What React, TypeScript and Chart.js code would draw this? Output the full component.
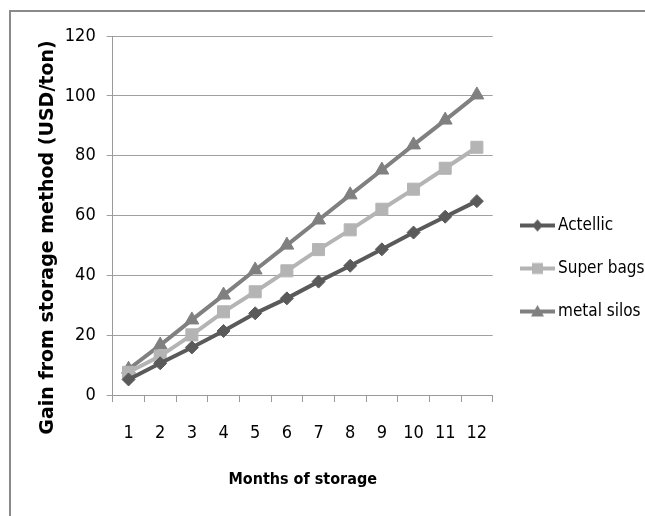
import React, { useEffect, useRef } from "react";
import { Chart, registerables } from "chart.js";

Chart.register(...registerables);

// ---- data ----
const months = ["1", "2", "3", "4", "5", "6", "7", "8", "9", "10", "11", "12"];
const actellic = [5.2, 10.6, 15.9, 21.4, 27.3, 32.3, 37.9, 43.2, 48.7, 54.3, 59.6, 64.8];
const superBags = [7.6, 13.0, 20.1, 27.8, 34.5, 41.5, 48.6, 55.2, 62.1, 68.8, 75.8, 82.8];
const metalSilos = [8.6, 16.7, 25.1, 33.4, 41.8, 50.1, 58.5, 66.9, 75.2, 83.6, 91.9, 100.3];
const seriesNames = ["Actellic", "Super bags", "metal silos"];
const yMin = 0;
const yMax = 120;
const yStep = 20;
const xTitle = "Months of storage";
const yTitle = "Gain from storage method (USD/ton)";

// ---- styles ----
const seriesColors = ["#5a5a5a", "#b4b4b4", "#808080"];
const seriesMarkers = ["rectRot", "rect", "triangle"];
const markerRadii = [6.5, 8.5, 8];
const NARROW = '"DejaVu Sans Condensed", "Liberation Sans Narrow", sans-serif';

function makeLegendIcon(color: string, marker: string): HTMLCanvasElement {
  const c = document.createElement("canvas");
  c.width = 35;
  c.height = 16;
  const g = c.getContext("2d")!;
  const cy = 8;
  const cx = 17.5;
  g.strokeStyle = color;
  g.lineWidth = 4;
  g.beginPath();
  g.moveTo(0, cy);
  g.lineTo(35, cy);
  g.stroke();
  g.fillStyle = color;
  g.beginPath();
  if (marker === "rectRot") {
    g.moveTo(cx, cy - 6);
    g.lineTo(cx + 5.5, cy);
    g.lineTo(cx, cy + 6);
    g.lineTo(cx - 5.5, cy);
    g.closePath();
  } else if (marker === "rect") {
    g.rect(cx - 5.5, cy - 5.5, 11, 11);
  } else {
    g.moveTo(cx, cy - 6.5);
    g.lineTo(cx + 6.5, cy + 5);
    g.lineTo(cx - 6.5, cy + 5);
    g.closePath();
  }
  g.fill();
  return c;
}

export default function App() {
  const ref = useRef<HTMLCanvasElement | null>(null);

  useEffect(() => {
    const canvas = ref.current;
    if (!canvas) return;
    const allSeries = [actellic, superBags, metalSilos];
    const icons = seriesNames.map((_, i) => makeLegendIcon(seriesColors[i], seriesMarkers[i]));

    const customPlugin = {
      id: "customBits",
      afterLayout(chart: any) {
        const lg = chart.legend;
        if (lg) {
          const dx = 6.8;
          const dy = 2.5;
          lg.left += dx;
          lg.right += dx;
          lg.top += dy;
          lg.bottom += dy;
        }
      },
      afterDraw(chart: any) {
        const { ctx, chartArea } = chart;
        ctx.save();
        ctx.translate(chartArea.left - 64.5, (chartArea.top + chartArea.bottom) / 2 + 22);
        ctx.rotate(-Math.PI / 2);
        ctx.font = 'bold 19px "DejaVu Sans", sans-serif';
        ctx.fillStyle = "#000";
        ctx.textAlign = "center";
        ctx.textBaseline = "middle";
        ctx.fillText(yTitle, 0, 0);
        ctx.restore();
      },
    };

    const chart = new Chart(canvas, {
      type: "line",
      data: {
        labels: months,
        datasets: allSeries.map((vals, i) => ({
          label: seriesNames[i],
          data: vals,
          borderColor: seriesColors[i],
          backgroundColor: seriesColors[i],
          borderWidth: 4,
          pointStyle: seriesMarkers[i] as any,
          pointRadius: markerRadii[i],
          pointBorderWidth: 1,
          pointBackgroundColor: seriesColors[i],
          pointBorderColor: seriesColors[i],
          tension: 0,
          fill: false,
        })),
      },
      options: {
        animation: false,
        responsive: false,
        events: [],
        layout: { padding: { left: 57.7, top: 36, right: 2.3, bottom: 20 } },
        plugins: {
          tooltip: { enabled: false },
          legend: {
            display: true,
            position: "right",
            align: "center",
            maxWidth: 150,
            labels: {
              usePointStyle: true,
              pointStyleWidth: 24,
              padding: 26,
              color: "#000",
              font: { family: NARROW, size: 17 },
              generateLabels: (ch: any) =>
                (Chart.defaults.plugins.legend.labels.generateLabels as any)(ch).map((it: any, i: number) => ({
                  ...it,
                  pointStyle: icons[i],
                })),
            },
          },
        },
        scales: {
          x: {
            type: "category",
            offset: true,
            afterFit: (s: any) => {
              s.height = 101;
            },
            grid: {
              offset: true,
              drawOnChartArea: false,
              drawTicks: true,
              tickLength: 7,
              color: "#9a9a9a",
            },
            border: { color: "#9a9a9a", width: 1 },
            ticks: { color: "#000", padding: 21, font: { family: NARROW, size: 18 } },
            title: {
              display: true,
              text: xTitle,
              color: "#000",
              font: { family: NARROW, size: 16, weight: "bold" },
              padding: { top: 25, bottom: 7 },
            },
          },
          y: {
            min: yMin,
            max: yMax,
            afterFit: (s: any) => {
              s.width = 55;
            },
            ticks: { stepSize: yStep, color: "#000", padding: 11, font: { family: NARROW, size: 18 } },
            grid: { color: "#a0a0a0", tickLength: 6, drawTicks: true },
            border: { color: "#9a9a9a", width: 1 },
          },
        },
      },
      plugins: [customPlugin],
    });
    return () => chart.destroy();
  }, []);

  return (
    <div style={{ position: "fixed", left: 0, top: 0, width: 645, height: 516, background: "#fff" }}>
      <canvas ref={ref} width={645} height={516} style={{ position: "absolute", left: 0, top: 0 }} />
      <div
        style={{
          position: "absolute",
          left: 9,
          top: 10,
          width: 636,
          height: 506,
          borderLeft: "2px solid #8a8a8a",
          borderTop: "2px solid #8a8a8a",
          pointerEvents: "none",
        }}
      />
    </div>
  );
}
